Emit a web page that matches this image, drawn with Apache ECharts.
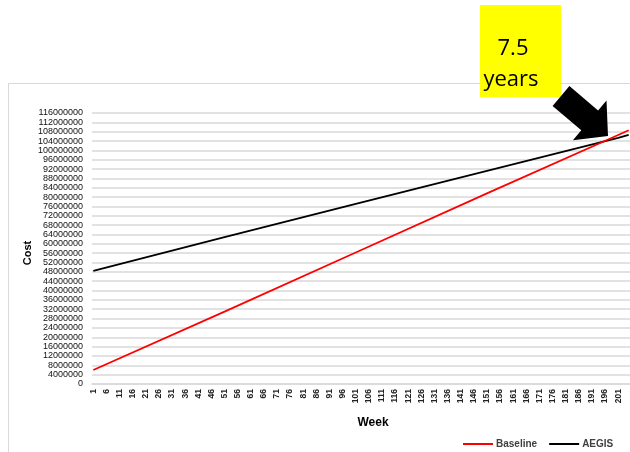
<!DOCTYPE html>
<html>
<head>
<meta charset="utf-8">
<script src="https://cdn.jsdelivr.net/npm/echarts@6/dist/echarts.min.js"></script>
<style>html,body{margin:0;padding:0;background:#fff}#c{width:630px;height:452px}</style>
</head>
<body>
<div id="c"></div>
<script>
// Week categories on the x axis (1 .. 205)
const weekFirst = 1;
const weekLast = 205;
// Values at a few weeks (lines are straight)
const readWeeks = [1, 51, 101, 151, 201, 205];
const baseline = [6.0e6, 31.0e6, 56.3e6, 81.6e6, 106.6e6, 108.6e6];
const aegis = [48.4e6, 62.9e6, 77.1e6, 91.2e6, 105.4e6, 106.6e6];
const seriesNames = ['Baseline', 'AEGIS'];
const yMin = 0, yMax = 116000000, yStep = 4000000;

const categories = [];
for (let w = weekFirst; w <= weekLast; w++) categories.push(String(w));
const pairs = vals => readWeeks.map((w, i) => [String(w), vals[i]]);

const chart = echarts.init(document.getElementById('c'));
chart.setOption({
  animation: false,
  backgroundColor: '#fff',
  grid: {left: 92, right: -3, top: 113, bottom: 68, containLabel: false},
  legend: {
    left: 458, top: 434, itemGap: 12, itemWidth: 30, itemHeight: 2, icon: 'rect',
    data: seriesNames,
    textStyle: {fontFamily: 'Liberation Sans', fontSize: 10, fontWeight: 'bold', color: '#404040', padding: [0,0,0,-2]}
  },
  xAxis: {
    type: 'category', data: categories, boundaryGap: true,
    axisLine: {show: true, lineStyle: {color: '#d9d9d9', width: 1.5}},
    axisTick: {show: false},
    axisLabel: {interval: 4, rotate: 90, fontSize: 8.5, fontWeight: 'bold', fontFamily: 'Liberation Sans', color: '#222', margin: 5}
  },
  yAxis: {
    type: 'value', min: yMin, max: yMax, interval: yStep,
    axisLine: {show: false}, axisTick: {show: false},
    splitLine: {lineStyle: {color: '#d9d9d9', width: 1.5}},
    axisLabel: {fontSize: 9, fontFamily: 'Liberation Sans', color: '#111', margin: 9, formatter: v => String(v)}
  },
  series: [
    {name: seriesNames[0], type: 'line', data: pairs(baseline), symbol: 'none', lineStyle: {color: '#ff0000', width: 1.8}, itemStyle: {color: '#ff0000'}, z: 3},
    {name: seriesNames[1], type: 'line', data: pairs(aegis), symbol: 'none', lineStyle: {color: '#000000', width: 1.8}, itemStyle: {color: '#000000'}, z: 2}
  ],
  graphic: [
    {type: 'rect', shape: {x: 8.5, y: 83.5, width: 640, height: 400}, style: {fill: null, stroke: '#d9d9d9', lineWidth: 1}, z: -1, silent: true},
    {type: 'text', rotation: Math.PI / 2, x: 28, y: 253, style: {text: 'Cost', font: 'bold 11px Liberation Sans', fill: '#000', textAlign: 'center', textVerticalAlign: 'middle'}, silent: true},
    {type: 'text', x: 373, y: 423, style: {text: 'Week', font: 'bold 12px Liberation Sans', fill: '#000', textAlign: 'center', textVerticalAlign: 'middle'}, silent: true},
    {type: 'rect', shape: {x: 480, y: 5, width: 81, height: 92}, style: {fill: '#ffff00'}, z: 10, silent: true},
    {type: 'text', x: 513, y: 49, style: {text: '7.5', font: '22px Open Sans', fill: '#000', textAlign: 'center', textVerticalAlign: 'middle'}, z: 11, silent: true},
    {type: 'text', x: 511, y: 80, style: {text: 'years', font: '22px Open Sans', fill: '#000', textAlign: 'center', textVerticalAlign: 'middle'}, z: 11, silent: true},
    {type: 'polygon', shape: {points: [[569.4,86.1],[598.1,110.5],[606.5,100.6],[608,136],[572.9,140.2],[581.3,130.3],[552.6,105.9]]}, style: {fill: '#000'}, z: 12, silent: true}
  ]
});
</script>
</body>
</html>
